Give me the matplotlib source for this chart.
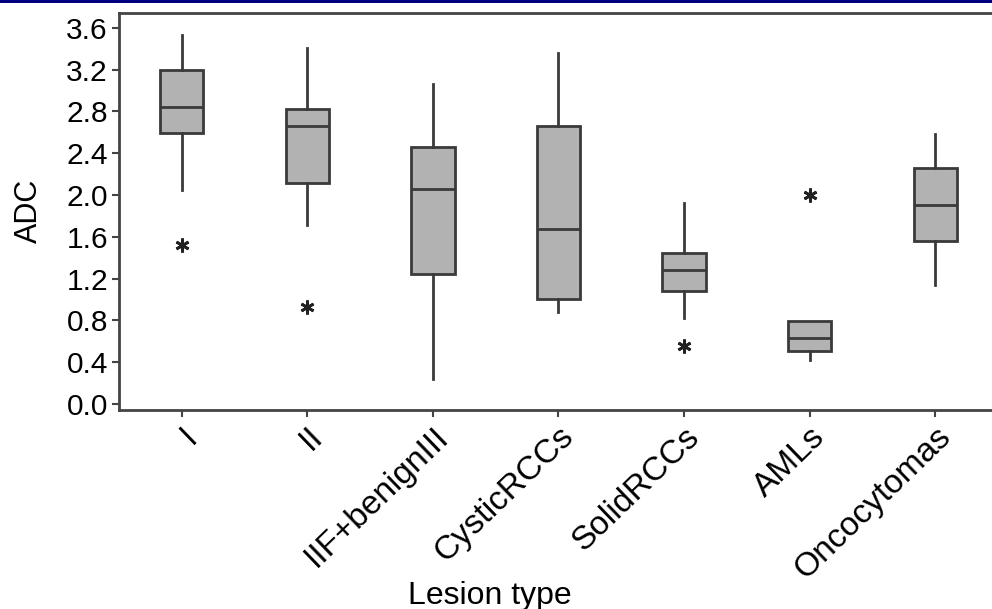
import matplotlib
matplotlib.use("Agg")
import matplotlib.pyplot as plt
from matplotlib.patches import Rectangle
from matplotlib.transforms import ScaledTranslation

plt.rcParams['font.family'] = ['Liberation Sans', 'DejaVu Sans']

# box stats (ADC)
lesions = ['I', 'II', 'IIF+benignIII', 'CysticRCCs', 'SolidRCCs', 'AMLs', 'Oncocytomas']
whislo = [2.05, 1.71, 0.24, 0.875, 0.82, 0.42, 1.14]
q1 = [2.59, 2.11, 1.245, 1.00, 1.08, 0.51, 1.56]
med = [2.84, 2.66, 2.06, 1.67, 1.28, 0.635, 1.90]
q3 = [3.20, 2.82, 2.46, 2.66, 1.44, 0.79, 2.26]
whishi = [3.53, 3.41, 3.06, 3.36, 1.92, 0.79, 2.58]
outliers = [[1.52], [0.93], [], [], [0.55], [2.00], []]
yticks = [0.0, 0.4, 0.8, 1.2, 1.6, 2.0, 2.4, 2.8, 3.2, 3.6]

stats = []
for i in range(len(lesions)):
    stats.append(dict(label=lesions[i], whislo=whislo[i], q1=q1[i], med=med[i],
                      q3=q3[i], whishi=whishi[i], fliers=outliers[i]))

fig = plt.figure(figsize=(9.92, 6.09), dpi=100)
ax = fig.add_axes([0.12, 0.327, 0.886, 0.652])

edge = '#3a3a3a'
ax.bxp(stats, widths=0.345, showcaps=False, patch_artist=True,
       boxprops=dict(facecolor='#b2b2b2', edgecolor=edge, linewidth=2),
       medianprops=dict(color=edge, linewidth=2),
       whiskerprops=dict(color=edge, linewidth=2),
       flierprops=dict(marker=(6, 2, 0), markersize=10, markeredgecolor='#222222',
                       markeredgewidth=2, linestyle='none'))

ax.set_xlim(0.5, 7.5)
ax.set_ylim(-0.057, 3.744)
ax.set_yticks(yticks)
ax.set_yticklabels(['%.1f' % v for v in yticks], fontsize=21.5)
ax.set_xticks(range(1, len(lesions) + 1))
ax.set_xticklabels(lesions, fontsize=24, rotation=44, ha='right', va='top',
                   rotation_mode='anchor')
for lab in ax.get_xticklabels():
    lab.set_transform(lab.get_transform() + ScaledTranslation(0.0, -0.04, fig.dpi_scale_trans))

for s in ['left', 'bottom', 'top']:
    ax.spines[s].set_color('#444444')
    ax.spines[s].set_linewidth(2)
ax.spines['right'].set_visible(False)
ax.tick_params(direction='out', length=5, width=1.5, color='#444444', pad=3)

ax.set_ylabel('ADC', fontsize=22)
ax.yaxis.set_label_coords(-0.085, 0.5)
ax.set_xlabel('Lesion type', fontsize=23)
ax.xaxis.set_label_coords(0.422, -0.43)

fig.patches.append(Rectangle((0, 1 - 3 / 609), 1, 3 / 609, transform=fig.transFigure,
                             facecolor='#000080', edgecolor='none'))

fig.savefig('out.png', dpi=100)
